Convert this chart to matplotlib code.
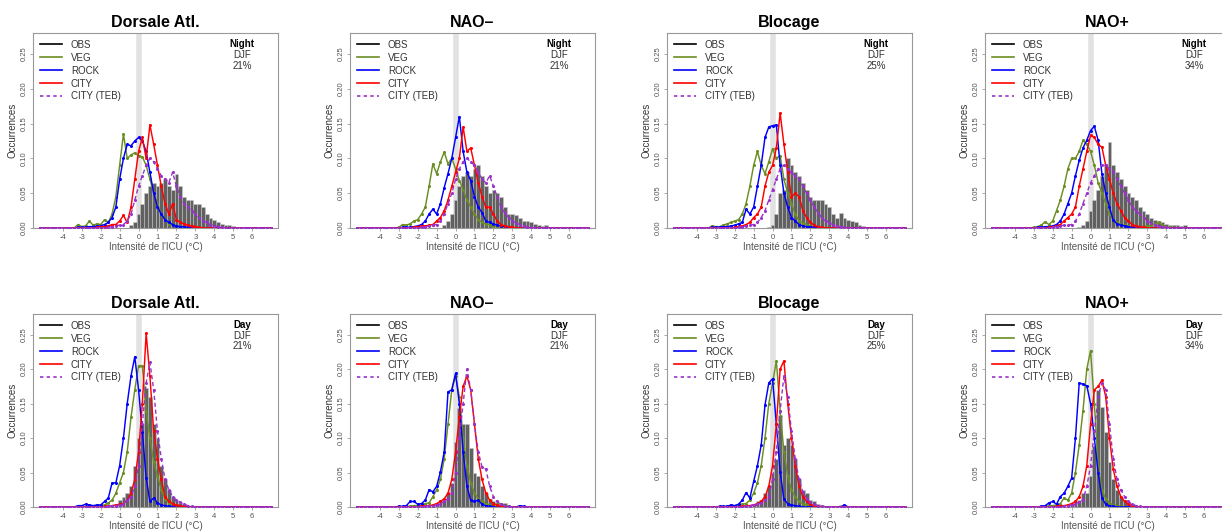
import numpy as np
import matplotlib
matplotlib.use("Agg")
import matplotlib.pyplot as plt
from matplotlib.lines import Line2D

plt.rcParams['font.family'] = ['Liberation Sans', 'DejaVu Sans']

regimes = ['Dorsale Atl.', 'NAO\u2013', 'Blocage', 'NAO+']
freq = ['21%', '21%', '25%', '34%']
xticks = [-4, -3, -2, -1, 0, 1, 2, 3, 4, 5, 6]
yticks = [0.00, 0.05, 0.10, 0.15, 0.20, 0.25]

# bin centres -3.0 .. 5.0 every 0.2 (41 values per series)
bins = np.round(np.arange(-3.0, 5.01, 0.2), 1)

obs_night = {
    'Dorsale Atl.': [0,0,0,0,0, 0,0,0,0,0, 0,0,0,.004,.008, .020,.035,.050,.060,.065, .060,.065,.070,.060,.055, .078,.060,.045,.040,.040, .035,.035,.030,.020,.015, .012,.008,.006,.005,.004, .003],
    'NAO\u2013': [0,0,0,0,0, 0,0,0,0,0, 0,0,.005,.010,.020, .040,.060,.075,.080,.075, .085,.090,.075,.060,.050, .055,.050,.045,.030,.020, .020,.018,.015,.010,.010, .008,.006,.004,.003,.004, .002],
    'Blocage': [0,0,0,0,0, 0,0,0,0,0, 0,0,0,0,.002, .005,.020,.050,.055,.100, .090,.080,.075,.065,.055, .045,.040,.040,.040,.035, .030,.020,.015,.022,.015, .012,.010,.008,.005,.003, .002],
    'NAO+': [0,0,0,0,0, 0,0,0,0,0, 0,0,.002,.005,.010, .025,.040,.055,.075,.090, .123,.090,.080,.070,.060, .050,.045,.040,.030,.025, .020,.015,.012,.010,.008, .006,.005,.004,.004,.003, .004],
}
veg_night = {
    'Dorsale Atl.': [.005,.002,.003,.010,.004, .006,.005,.012,.008,.020, .045,.090,.135,.100,.105, .108,.104,.102,.090,.070, .050,.035,.020,.012,.006, .004,.002,0,0,0, 0,0,0,0,0, 0,0,0,0,0, 0],
    'NAO\u2013': [0,.001,.005,.004,.006, .010,.012,.020,.030,.060, .092,.078,.095,.109,.092, .100,.085,.068,.055,.040, .030,.020,.012,.008,.006, .005,.003,.002,.001,0, 0,0,0,0,0, 0,0,0,0,0, 0],
    'Blocage': [.003,.002,.002,.004,.006, .008,.010,.012,.020,.035, .060,.090,.110,.090,.078, .095,.114,.100,.104,.070, .050,.035,.020,.010,.007, .005,.003,.002,.001,0, 0,0,0,0,0, 0,0,0,0,0, 0],
    'NAO+': [0,.001,.002,.004,.009, .005,.010,.025,.040,.060, .085,.100,.100,.110,.126, .120,.110,.090,.065,.050, .035,.020,.012,.008,.005, .004,.003,.002,.002,.002, .002,.003,.004,.006,.008, .004,.002,.001,0,0, 0],
}
rock_night = {
    'Dorsale Atl.': [.001,.001,.001,.002,.002, .003,.003,.005,.008,.015, .030,.070,.100,.120,.118, .125,.130,.125,.110,.080, .050,.030,.020,.012,.008, .005,.003,.002,.002,.001, .001,0,0,0,0, 0,0,0,0,0, 0],
    'NAO\u2013': [0,0,.001,.001,.001, .002,.003,.005,.010,.020, .027,.020,.035,.058,.078, .100,.130,.160,.110,.080, .068,.045,.030,.022,.010, .008,.006,.004,.003,.002, .001,0,0,0,0, 0,0,0,0,0, 0],
    'Blocage': [.001,.001,.001,.002,.002, .003,.004,.006,.008,.027, .020,.030,.060,.090,.130, .145,.147,.148,.090,.050, .030,.015,.010,.005,.003, .002,.002,.001,.001,0, 0,0,0,0,0, 0,0,0,0,0, 0],
    'NAO+': [0,0,.001,.001,.002, .002,.003,.005,.010,.020, .035,.050,.075,.097,.115, .126,.140,.146,.126,.078, .050,.030,.011,.006,.004, .003,.002,.001,.001,0, 0,0,0,0,0, 0,0,0,0,0, 0],
}
city_night = {
    'Dorsale Atl.': [0,0,0,0,0, .001,.002,.002,.003,.005, .005,.010,.018,.008,.030, .070,.110,.130,.100,.148, .120,.090,.060,.035,.020, .035,.012,.008,.006,.004, .003,.002,.001,0,0, 0,0,0,0,0, 0],
    'NAO\u2013': [0,0,0,0,0, .001,.002,.003,.003,.004, .005,.010,.015,.025,.040, .060,.080,.100,.145,.110, .115,.090,.065,.045,.030, .030,.020,.010,.005,.003, .002,.001,0,0,0, 0,0,0,0,0, 0],
    'Blocage': [0,0,0,0,0, 0,.001,.002,.003,.005, .008,.015,.020,.030,.060, .080,.090,.115,.165,.120, .080,.045,.050,.045,.025, .015,.008,.004,.002,.001, 0,0,0,0,0, 0,0,0,0,0, 0],
    'NAO+': [0,0,0,0,0, .001,.002,.003,.005,.010, .015,.020,.030,.060,.085, .110,.133,.130,.120,.116, .090,.070,.050,.035,.025, .015,.010,.005,.003,.002, .001,0,0,0,0, 0,0,0,0,0, 0],
}
teb_night = {
    'Dorsale Atl.': [0,0,0,0,0, 0,0,0,.001,.002, .003,.004,.005,.010,.020, .040,.060,.075,.090,.100, .095,.085,.075,.070,.065, .080,.060,.045,.035,.030, .025,.020,.015,.010,.008, .005,.003,.002,.001,0, 0],
    'NAO\u2013': [0,0,0,0,0, 0,0,.001,.002,.003, .004,.005,.010,.020,.035, .050,.070,.085,.095,.100, .095,.090,.080,.070,.065, .075,.060,.045,.030,.022, .015,.010,.007,.005,.003, .002,.001,0,0,0, 0],
    'Blocage': [0,0,0,0,0, 0,0,.001,.002,.003, .004,.005,.008,.015,.025, .040,.055,.070,.085,.090, .085,.080,.075,.070,.060, .050,.040,.030,.022,.015, .010,.007,.005,.003,.002, .001,0,0,0,0, 0],
    'NAO+': [0,0,0,0,0, 0,.001,.002,.003,.004, .004,.005,.010,.020,.035, .050,.065,.075,.085,.090, .090,.085,.080,.070,.060, .050,.040,.030,.025,.020, .015,.010,.007,.005,.003, .002,.001,0,0,0, 0],
}

obs_day = {
    'Dorsale Atl.': [0,0,0,0,0, 0,0,0,0,.002, .010,.015,.020,.030,.060, .100,.120,.172,.160,.120, .100,.060,.040,.025,.015, .010,.006,.004,.002,.001, 0,0,0,.002,0, 0,0,0,0,0, 0],
    'NAO\u2013': [0,0,0,0,0, 0,0,0,0,.003, .005,.010,.010,.020,.035, .095,.143,.120,.120,.085, .050,.045,.030,.020,.012, .008,.005,.004,.006,.003, .002,0,0,0,0, 0,0,0,0,0, 0],
    'Blocage': [0,0,0,0,0, 0,0,0,0,.002, .004,.008,.010,.020,.030, .050,.070,.133,.090,.100, .090,.070,.040,.025,.020, .010,.008,.005,.003,.002, .002,.001,.001,.003,.002, .001,0,0,0,0, 0],
    'NAO+': [0,0,0,0,0, 0,0,0,0,.002, .004,.008,.010,.020,.020, .045,.088,.170,.145,.109, .065,.040,.025,.015,.010, .007,.004,.002,.001,0, 0,0,0,0,0, 0,0,0,0,0, 0],
}
veg_day = {
    'Dorsale Atl.': [0,0,0,.001,.001, .002,.002,.003,.006,.010, .020,.035,.050,.080,.130, .170,.205,.205,.140,.100, .065,.045,.025,.012,.006, .003,.002,.001,0,0, 0,0,0,0,0, 0,0,0,0,0, 0],
    'NAO\u2013': [0,0,0,.001,.001, .002,.002,.003,.005,.006, .015,.025,.040,.070,.120, .170,.190,.160,.100,.060, .035,.020,.012,.008,.005, .003,.003,.004,.005,.002, .001,0,0,0,0, 0,0,0,0,0, 0],
    'Blocage': [0,0,0,0,.001, .001,.002,.003,.004,.005, .010,.020,.035,.060,.100, .150,.180,.212,.140,.080, .045,.025,.015,.008,.005, .003,.002,.001,0,0, 0,0,0,0,0, 0,0,0,0,0, 0],
    'NAO+': [0,0,0,0,.001, .002,.002,.003,.005,.013, .010,.020,.050,.090,.140, .200,.227,.150,.060,.025, .012,.006,.003,.002,.001, 0,0,0,0,0, 0,0,0,0,0, 0,0,0,0,0, 0],
}
rock_day = {
    'Dorsale Atl.': [.002,.002,.004,.003,.002, .003,.003,.008,.013,.035, .035,.060,.100,.150,.190, .218,.170,.109,.042,.008, .013,.006,.003,.002,.001, .001,0,0,0,0, 0,0,0,0,0, 0,0,0,0,0, 0],
    'NAO\u2013': [0,.001,.001,.002,.008, .008,.004,.005,.010,.025, .022,.030,.051,.080,.167, .170,.194,.150,.080,.030, .010,.008,.010,.004,.002, .001,0,0,0,0, 0,0,0,.002,.001, 0,0,0,0,0, 0],
    'Blocage': [0,0,.001,.001,.001, .003,.002,.004,.010,.021, .013,.037,.060,.090,.148, .180,.186,.120,.051,.011, .005,.003,.002,.001,0, 0,0,0,0,0, 0,0,0,0,0, .003,0,0,0,0, 0],
    'NAO+': [0,0,0,.001,.002, .006,.008,.004,.015,.020, .030,.042,.100,.180,.178, .176,.150,.100,.050,.013, .004,.002,.001,0,0, 0,0,0,0,0, 0,0,0,0,0, 0,0,0,0,0, 0],
}
city_day = {
    'Dorsale Atl.': [0,0,0,0,0, 0,0,.001,.001,.002, .003,.004,.005,.010,.020, .040,.080,.150,.252,.190, .110,.070,.040,.015,.008, .005,.003,.002,.001,0, 0,0,0,0,0, 0,0,0,0,0, 0],
    'NAO\u2013': [0,0,0,0,0, 0,0,.001,.002,.002, .003,.005,.008,.012,.020, .040,.080,.130,.175,.190, .170,.120,.070,.040,.020, .010,.005,.003,.001,0, 0,0,0,0,0, 0,0,0,0,0, 0],
    'Blocage': [0,0,0,0,0, 0,0,0,.001,.002, .002,.003,.005,.008,.015, .030,.060,.120,.200,.212, .150,.100,.060,.030,.015, .008,.004,.002,.001,0, 0,0,0,0,0, 0,0,0,0,0, 0],
    'NAO+': [0,0,0,0,0, 0,0,.001,.002,.002, .003,.005,.008,.015,.030, .060,.120,.170,.175,.184, .160,.100,.055,.030,.015, .008,.004,.002,.001,0, 0,0,0,0,0, 0,0,0,0,0, 0],
}
teb_day = {
    'Dorsale Atl.': [0,0,0,0,0, 0,0,0,.001,.002, .002,.003,.005,.010,.015, .030,.060,.120,.180,.210, .170,.110,.070,.040,.025, .015,.010,.007,.004,.002, .001,0,0,0,0, 0,0,0,0,0, 0],
    'NAO\u2013': [0,0,0,0,0, 0,0,0,.001,.002, .002,.003,.005,.008,.012, .020,.050,.100,.150,.200, .170,.120,.080,.058,.055, .030,.015,.008,.004,.002, .001,0,0,0,0, 0,0,0,0,0, 0],
    'Blocage': [0,0,0,0,0, 0,0,0,0,.001, .002,.003,.004,.006,.010, .015,.040,.080,.140,.190, .160,.110,.070,.040,.022, .012,.007,.004,.002,.001, 0,0,0,0,0, 0,0,0,0,0, 0],
    'NAO+': [0,0,0,0,0, 0,0,0,0,.001, .002,.003,.005,.007,.010, .030,.060,.110,.160,.180, .170,.120,.070,.040,.025, .015,.008,.004,.002,.001, 0,0,0,0,0, 0,0,0,0,0, 0],
}

COL_VEG = '#6b8e23'
COL_ROCK = '#0000ff'
COL_CITY = '#ff0000'
COL_TEB = '#9932cc'
GREY = '#555555'

# the lines run flat on zero outside the read range
x_full = np.round(np.arange(-5.2, 7.01, 0.2), 1)
n_left = 10
n_right = len(x_full) - n_left - len(bins)


def pad(vals):
    return np.concatenate([np.zeros(n_left), vals, np.zeros(n_right)])


fig = plt.figure(figsize=(12.22, 5.31), dpi=100)
W, H = 1222.0, 531.0
lefts = [33, 350, 667, 985]
rows = [(33, 228, 'Night', obs_night, veg_night, rock_night, city_night, teb_night),
        (314, 507, 'Day', obs_day, veg_day, rock_day, city_day, teb_day)]

for top, bottom, period, obs, veg, rock, city, teb in rows:
    for j, reg in enumerate(regimes):
        ax = fig.add_axes([lefts[j] / W, 1 - bottom / H, 245 / W, (bottom - top) / H])
        ax.axvline(0, color='#e2e2e2', lw=4, zorder=0)
        ax.bar(bins, obs[reg], width=0.2, color='#505050', edgecolor='#c8c8c8',
               linewidth=0.4, alpha=0.9, zorder=1)
        for vals, col in [(veg[reg], COL_VEG), (rock[reg], COL_ROCK), (city[reg], COL_CITY)]:
            ax.plot(x_full, pad(vals), color=col, lw=1.05, marker='o', ms=1.2, zorder=2)
        ax.plot(x_full, pad(teb[reg]), color=COL_TEB, lw=1.0, ls=(0, (3, 2)),
                marker='o', ms=1.2, zorder=3)

        ax.set_xlim(-5.58, 7.37)
        ax.set_ylim(0, 0.28)
        ax.set_xticks(xticks)
        ax.set_xticklabels([str(t) for t in xticks])
        ax.set_yticks(yticks)
        ax.set_yticklabels(['%.2f' % t for t in yticks], rotation=90, va='center')
        ax.tick_params(labelsize=5.5, length=2, width=0.5, colors='#888888',
                       labelcolor=GREY, pad=2)
        for s in ax.spines.values():
            s.set_color('#999999')
            s.set_linewidth(0.8)
        ax.set_title(reg, fontsize=11.5, fontweight='bold', pad=4)
        ax.set_xlabel("Intensit\u00e9 de l'ICU (\u00b0C)", fontsize=7, color=GREY, labelpad=1)
        ax.set_ylabel('Occurrences', fontsize=7, color='#333333', labelpad=2)

        handles = [Line2D([], [], color='black', lw=1.2),
                   Line2D([], [], color=COL_VEG, lw=1.2),
                   Line2D([], [], color=COL_ROCK, lw=1.2),
                   Line2D([], [], color=COL_CITY, lw=1.2),
                   Line2D([], [], color=COL_TEB, lw=1.2, ls=(0, (2, 2)))]
        ax.legend(handles, ['OBS', 'VEG', 'ROCK', 'CITY', 'CITY (TEB)'],
                  loc='upper left', frameon=False, fontsize=7, handlelength=2.3,
                  handletextpad=0.9, labelspacing=0.3, borderaxespad=0.3,
                  labelcolor='#333333')
        ax.text(0.853, 0.945, period, transform=ax.transAxes, ha='center', va='center',
                fontsize=7, fontweight='bold')
        ax.text(0.853, 0.888, 'DJF', transform=ax.transAxes, ha='center', va='center',
                fontsize=7, color='#333333')
        ax.text(0.853, 0.833, freq[j], transform=ax.transAxes, ha='center', va='center',
                fontsize=7, color='#333333')

fig.savefig('out.png', dpi=100)
